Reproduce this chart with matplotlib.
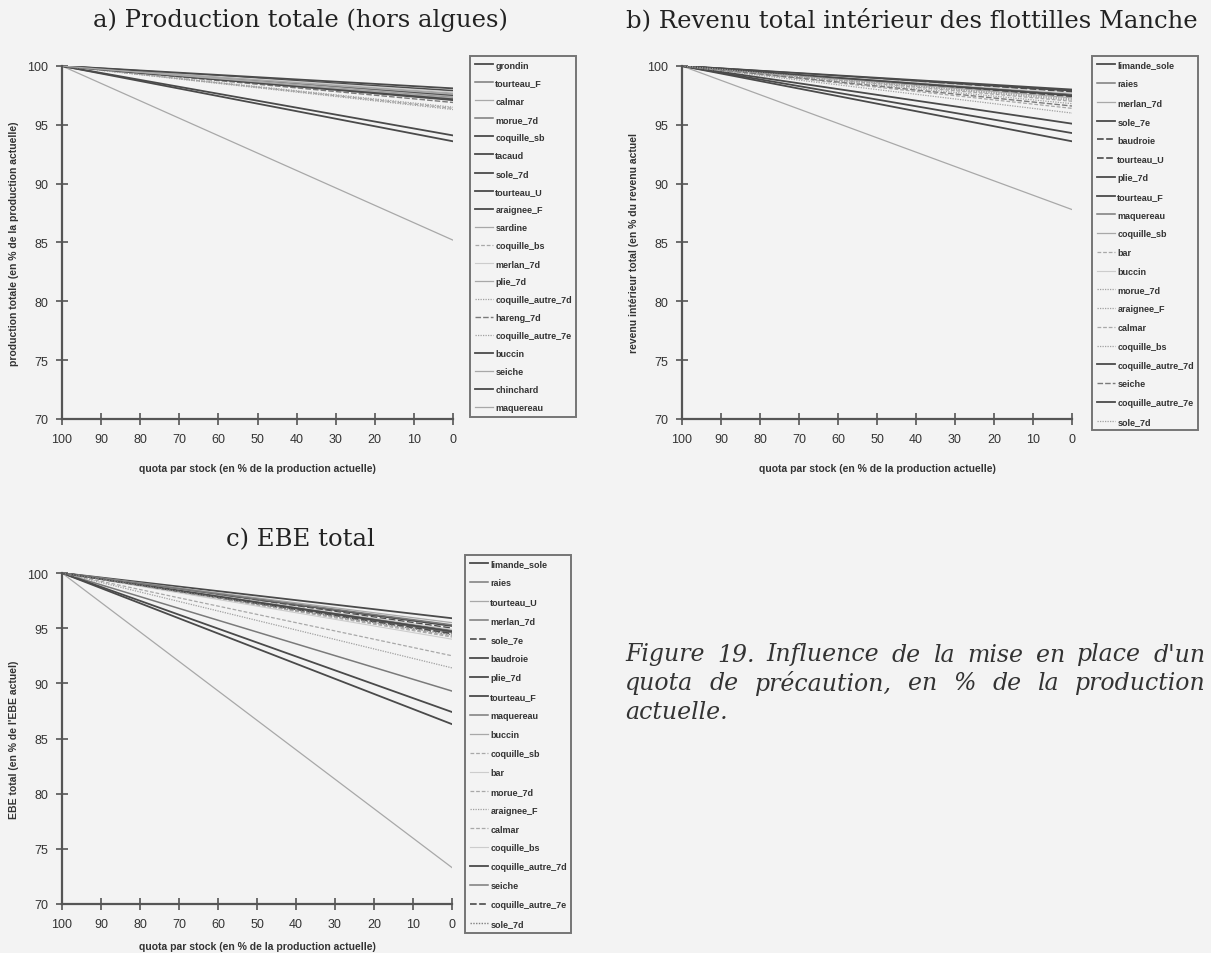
import matplotlib.pyplot as plt

# quota par stock (en % de la production actuelle) : début et fin des droites
quota = [100, 0]
base = 100

# a) Production totale (hors algues) : valeur atteinte à quota 0
series_a = ['grondin', 'tourteau_F', 'calmar', 'morue_7d', 'coquille_sb', 'tacaud',
            'sole_7d', 'tourteau_U', 'araignee_F', 'sardine', 'coquille_bs', 'merlan_7d',
            'plie_7d', 'coquille_autre_7d', 'hareng_7d', 'coquille_autre_7e', 'buccin',
            'seiche', 'chinchard', 'maquereau']
fin_a = [97.9, 97.6, 85.2, 97.4, 94.1, 93.6, 97.3, 97.2, 97.5, 97.7,
         96.4, 97.8, 97.6, 96.3, 96.9, 96.5, 97.1, 97.4, 98.1, 97.3]

# b) Revenu total intérieur des flottilles Manche
series_b = ['limande_sole', 'raies', 'merlan_7d', 'sole_7e', 'baudroie', 'tourteau_U',
            'plie_7d', 'tourteau_F', 'maquereau', 'coquille_sb', 'bar', 'buccin',
            'morue_7d', 'araignee_F', 'calmar', 'coquille_bs', 'coquille_autre_7d',
            'seiche', 'coquille_autre_7e', 'sole_7d']
fin_b = [93.6, 97.5, 87.8, 94.3, 97.8, 97.4, 95.1, 97.9, 97.6, 97.3,
         96.4, 97.7, 96.8, 96.0, 97.0, 97.2, 97.5, 96.6, 98.0, 97.1]

# c) EBE total
series_c = ['limande_sole', 'raies', 'tourteau_U', 'merlan_7d', 'sole_7e', 'baudroie',
            'plie_7d', 'tourteau_F', 'maquereau', 'buccin', 'coquille_sb', 'bar',
            'morue_7d', 'araignee_F', 'calmar', 'coquille_bs', 'coquille_autre_7d',
            'seiche', 'coquille_autre_7e', 'sole_7d']
fin_c = [86.3, 89.3, 73.3, 94.8, 95.0, 87.4, 95.2, 95.9, 94.6, 95.5,
         94.3, 94.9, 92.5, 91.4, 94.2, 94.0, 94.7, 95.3, 94.5, 94.4]

# styles des traits (niveaux de gris comme dans le document)
styles = {
    'd': ('#4a4a4a', '-', 1.3),
    'm': ('#7a7a7a', '-', 1.1),
    'l': ('#a8a8a8', '-', 0.9),
    'v': ('#cccccc', '-', 0.8),
    'dd': ('#4a4a4a', (0, (4, 1.5)), 1.2),
    'md': ('#7a7a7a', (0, (4, 1.5)), 1.0),
    'ld': ('#a8a8a8', (0, (3, 1.5)), 0.9),
    'lo': ('#a0a0a0', (0, (1, 1)), 0.9),
    'mo': ('#808080', (0, (1, 1)), 1.0),
}
style_a = ['d', 'm', 'l', 'm', 'd', 'd', 'd', 'd', 'd', 'l',
           'ld', 'v', 'l', 'lo', 'md', 'lo', 'd', 'l', 'd', 'l']
style_b = ['d', 'm', 'l', 'd', 'dd', 'dd', 'd', 'd', 'm', 'l',
           'ld', 'v', 'lo', 'lo', 'ld', 'lo', 'd', 'md', 'd', 'lo']
style_c = ['d', 'm', 'l', 'm', 'dd', 'd', 'd', 'd', 'm', 'l',
           'ld', 'v', 'ld', 'lo', 'ld', 'v', 'd', 'm', 'dd', 'mo']

bg = '#f3f3f3'
axcol = '#555555'
W, H = 1211, 954

plt.rcParams['font.family'] = ['Liberation Sans', 'DejaVu Sans']
fig = plt.figure(figsize=(W / 100, H / 100), dpi=100, facecolor=bg)


def fx(px):
    return px / W


def fy(py):
    return 1 - py / H


def panel(rect, names, fins, sty, ylabel, leg_xy, spacing, xpad):
    ax = fig.add_axes(rect)
    ax.set_facecolor(bg)
    for name, fin, s in zip(names, fins, sty):
        c, ls, lw = styles[s]
        ax.plot(quota, [base, fin], color=c, linestyle=ls, linewidth=lw, label=name)
    ax.set_xlim(100, 0)
    ax.set_ylim(70, 100)
    ax.set_xticks(range(100, -1, -10))
    ax.set_yticks(range(70, 101, 5))
    for side in ['top', 'right']:
        ax.spines[side].set_visible(False)
    for side in ['left', 'bottom']:
        ax.spines[side].set_color(axcol)
        ax.spines[side].set_linewidth(1.6)
    ax.tick_params(direction='inout', length=8, width=1.2, color=axcol,
                   labelsize=9, labelcolor='#333333', pad=6)
    ax.set_xlabel('quota par stock (en % de la production actuelle)', fontsize=7.5,
                  fontweight='bold', color='#333333', labelpad=xpad)
    ax.set_ylabel(ylabel, fontsize=7.5, fontweight='bold', color='#333333', labelpad=6)
    leg = ax.legend(loc='upper left', bbox_to_anchor=leg_xy, bbox_transform=fig.transFigure,
                    fontsize=6.5, frameon=True, fancybox=False, handlelength=2.0,
                    handletextpad=0.3, labelspacing=spacing, borderpad=0.5,
                    borderaxespad=0)
    leg.get_frame().set_edgecolor('#555555')
    leg.get_frame().set_linewidth(1.4)
    leg.get_frame().set_facecolor(bg)
    for t in leg.get_texts():
        t.set_color('#333333')
        t.set_fontweight('bold')
    return ax


panel([fx(62), fy(420), fx(391), fy(67) - fy(420)], series_a, fin_a, style_a,
      'production totale (en % de la production actuelle)', (fx(470), fy(57)), 1.0, 13)
panel([fx(682), fy(420), fx(390), fy(67) - fy(420)], series_b, fin_b, style_b,
      'revenu intérieur total (en % du revenu actuel', (fx(1092), fy(57)), 1.08, 13)
panel([fx(62), fy(905), fx(390), fy(574) - fy(905)], series_c, fin_c, style_c,
      "EBE total (en % de l'EBE actuel)", (fx(465), fy(556)), 1.1, 8)

serif = ['DejaVu Serif']
fig.text(fx(93), fy(20), 'a) Production totale (hors algues)', family=serif,
         fontsize=17.5, ha='left', va='center', color='#222222')
fig.text(fx(626), fy(20), 'b) Revenu total intérieur des flottilles Manche', family=serif,
         fontsize=17.5, ha='left', va='center', color='#222222')
fig.text(fx(226), fy(540), 'c) EBE total', family=serif,
         fontsize=17.5, ha='left', va='center', color='#222222')

# légende de la figure, justifiée sur la largeur de la colonne
caption = ["Figure 19. Influence de la mise en place d'un",
           'quota de précaution, en % de la production',
           'actuelle.']
renderer = fig.canvas.get_renderer()
x0, x1 = 625, 1206
for i, line in enumerate(caption):
    yy = fy(655 + 29 * i)
    words = line.split(' ')
    kw = dict(family=serif, style='italic', fontsize=17, ha='left', va='center',
              color='#333333')
    if i == len(caption) - 1:
        fig.text(fx(x0), yy, line, **kw)
        continue
    items = [fig.text(0, yy, w, **kw) for w in words]
    widths = [t.get_window_extent(renderer).width for t in items]
    gap = (x1 - x0 - sum(widths)) / (len(words) - 1)
    x = x0
    for t, w in zip(items, widths):
        t.set_x(fx(x))
        x += w + gap

fig.savefig('out.png', dpi=100, facecolor=bg)
